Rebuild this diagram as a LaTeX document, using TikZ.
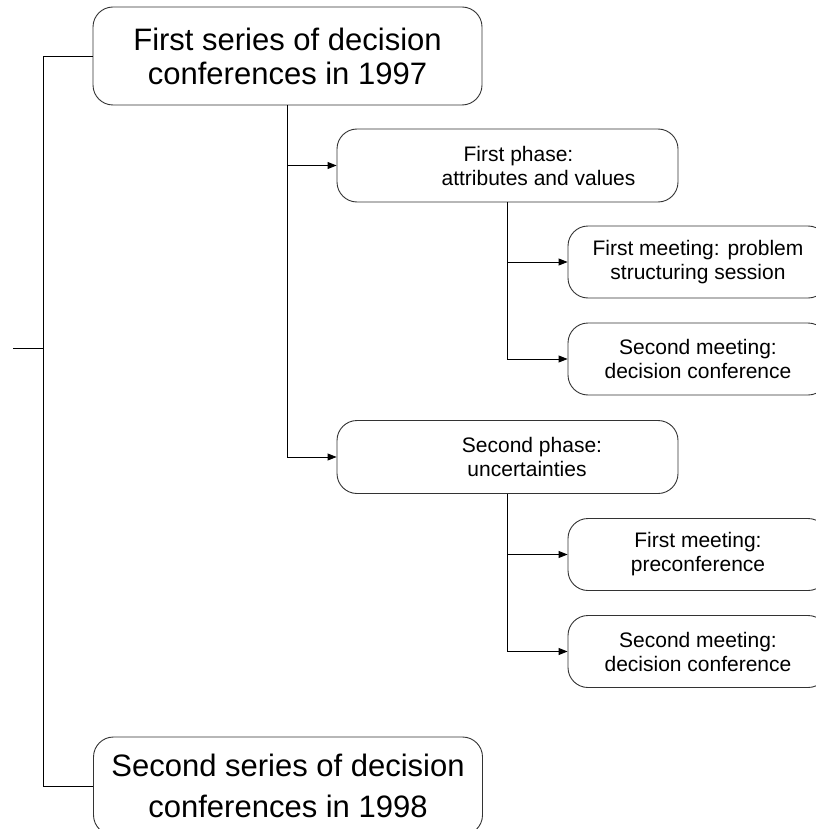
\documentclass[tikz,border=0pt]{standalone}
\usepackage{fontspec}
\setmainfont{Liberation Sans}
\usetikzlibrary{arrows.meta}
\begin{document}
\begin{tikzpicture}[x=1pt,y=-1pt,
  box/.style={draw=black!80, line width=0.9pt, rounded corners=20pt,
    rectangle, inner sep=0pt, align=center},
  bigbox/.style={box, minimum width=389pt, minimum height=98pt},
  phasebox/.style={box, minimum width=341pt, minimum height=73pt,
    font=\fontsize{21}{24}\selectfont},
  meetbox/.style={box, minimum width=260pt, minimum height=72pt,
    font=\fontsize{21}{24}\selectfont},
  link/.style={draw=black, line width=0.9pt},
  arr/.style={link, -{Triangle[length=9pt,width=7pt]}}]
\useasboundingbox (0,0) rectangle (815,829);

% series boxes
\node[bigbox, font=\fontsize{31}{34}\selectfont] (s1) at (287.5,56)
  {First series of decision\\conferences in 1997};
\node[bigbox, font=\fontsize{31}{41}\selectfont] (s2) at (288,786)
  {Second series of decision\\conferences in 1998};

% phases
\node[phasebox] (p1) at (507.5,165.5)
  {\hspace*{22pt}First phase:\\\hspace*{62pt}attributes and values};
\node[phasebox] (p2) at (507.5,457)
  {\hspace*{49pt}Second phase:\\\hspace*{39pt}uncertainties};

% meetings
\node[meetbox] (m11) at (698,262) {First meeting: problem\\structuring session};
\node[meetbox] (m12) at (698,359) {Second meeting:\\decision conference};
\node[meetbox] (m21) at (698,554.5) {First meeting:\\preconference};
\node[meetbox] (m22) at (698,651.5) {Second meeting:\\decision conference};

% left spine joining the two series
\coordinate (stub) at (13,348);
\coordinate (jn) at (44,348);
\draw[link] (s1.west) -- ++(-49,0) |- (s2.west);
\draw[link] (stub) -- (jn);

% tree connectors
\draw[arr] (s1.south) |- (p1.west);
\draw[arr] (s1.south) |- (p2.west);
\draw[arr] (p1.south) |- (m11.west);
\draw[arr] (p1.south) |- (m12.west);
\draw[arr] (p2.south) |- (m21.west);
\draw[arr] (p2.south) |- (m22.west);
\end{tikzpicture}
\end{document}
